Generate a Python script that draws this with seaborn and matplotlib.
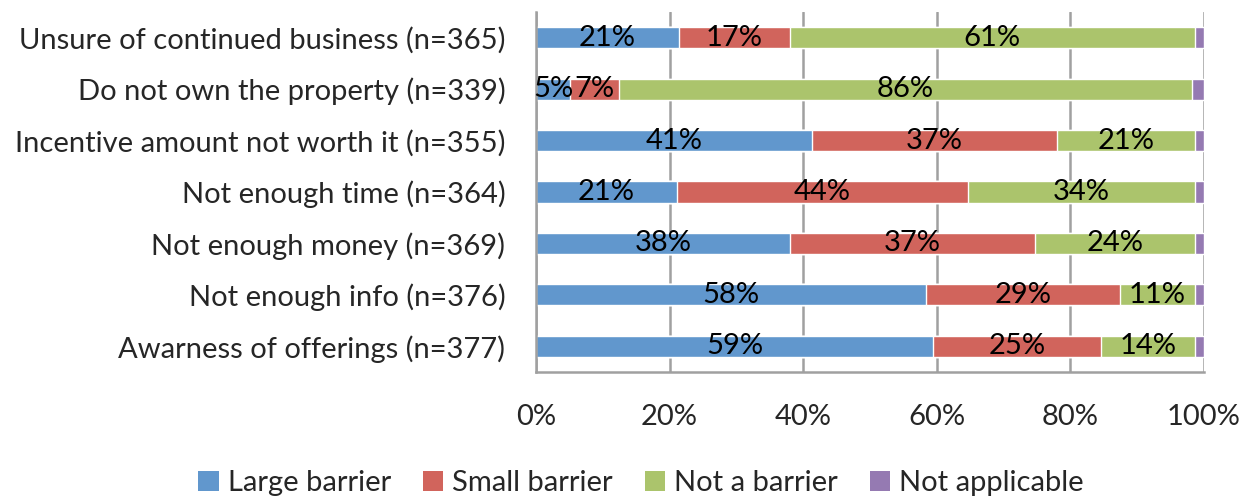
import numpy as np
import pandas as pd
import matplotlib
matplotlib.use("Agg")
import matplotlib.pyplot as plt
import seaborn as sns
from matplotlib.patches import Patch

categories = [
    "Unsure of continued business (n=365)",
    "Do not own the property (n=339)",
    "Incentive amount not worth it (n=355)",
    "Not enough time (n=364)",
    "Not enough money (n=369)",
    "Not enough info (n=376)",
    "Awarness of offerings (n=377)",
]
large_barrier = [21.4, 5.1, 41.3, 21.1, 38.0, 58.4, 59.4]
small_barrier = [16.6, 7.3, 36.7, 43.6, 36.7, 29.0, 25.2]
not_a_barrier = [60.6, 85.8, 20.6, 34.0, 23.9, 11.2, 14.0]
not_applicable = [1.4, 1.8, 1.4, 1.3, 1.4, 1.4, 1.4]

series_names = ["Large barrier", "Small barrier", "Not a barrier", "Not applicable"]
colors = ["#6197cd", "#d1645c", "#abc46c", "#957ab2"]

df = pd.DataFrame({
    "Category": categories,
    "Large barrier": large_barrier,
    "Small barrier": small_barrier,
    "Not a barrier": not_a_barrier,
    "Not applicable": not_applicable,
})
parts = df[series_names].to_numpy() / 100.0
cum = np.cumsum(parts, axis=1)

sns.set_style("white")
plt.rcParams["font.family"] = ["Lato", "DejaVu Sans"]
fs = 21

fig = plt.figure(figsize=(12.43, 4.97), dpi=100)
ax = fig.add_axes([536 / 1243, 1 - 372 / 497, (1204 - 536) / 1243, (372 - 12) / 497])

# stacked bars: draw the longest cumulative first so later ones sit on top
for j in range(3, -1, -1):
    sns.barplot(x=cum[:, j], y=df["Category"], color=colors[j], orient="h",
                width=0.41, saturation=1, ax=ax, zorder=2)

for i in range(len(categories)):
    for j in range(3):
        left = cum[i, j] - parts[i, j]
        ax.text(left + parts[i, j] / 2, i, f"{round(parts[i, j] * 100):.0f}%",
                ha="center", va="center", fontsize=fs, color="black", zorder=3)

ax.set_xlim(0, 1)
ax.set_ylim(len(categories) - 0.5, -0.5)
ax.set_xticks(np.arange(0, 1.01, 0.2))
ax.set_xticklabels([f"{int(v * 100)}%" for v in np.arange(0, 1.01, 0.2)], fontsize=fs)
ax.set_xlabel("")
ax.set_ylabel("")
ax.tick_params(axis="y", which="major", length=0, labelsize=fs, pad=22)
ax.set_yticks(np.arange(-0.5, len(categories), 1), minor=True)
ax.tick_params(axis="y", which="minor", length=7, width=1.5, color="#a0a0a0", direction="out")
ax.tick_params(axis="x", which="major", length=7, width=1.5, color="#a0a0a0", direction="out", pad=16)
ax.grid(axis="x", color="#a0a0a0", linewidth=1.8, zorder=0)
ax.set_axisbelow(True)
for side in ["top", "right"]:
    ax.spines[side].set_visible(False)
for side in ["left", "bottom"]:
    ax.spines[side].set_color("#a0a0a0")
    ax.spines[side].set_linewidth(1.8)

handles = [Patch(facecolor=c, edgecolor="none") for c in colors]
fig.legend(handles, series_names, loc="center", bbox_to_anchor=(641 / 1243, 1 - 483 / 497),
           ncol=4, frameon=False, fontsize=fs, handlelength=0.7, handleheight=0.7,
           handletextpad=0.3, columnspacing=1.1)

fig.savefig("out.png", dpi=100)
